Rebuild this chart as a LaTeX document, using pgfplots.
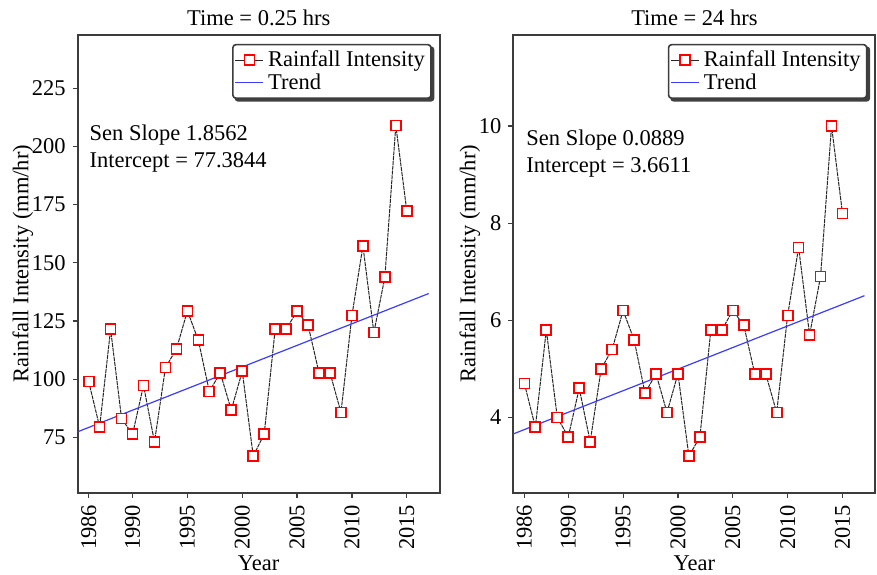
\documentclass[border=0pt]{standalone}
\usepackage{fontspec}
\setmainfont{Liberation Serif}
\usepackage{pgfplots}
\pgfplotsset{compat=1.18}
\pgfdeclarelayer{background}
\pgfsetlayers{background,main}
\definecolor{axgray}{RGB}{60,60,60}
\definecolor{trendblue}{RGB}{60,60,255}
\definecolor{mkred}{RGB}{255,0,0}

\pgfplotstableread{
year  r025   r24
1986  99.0   4.7
1987  79.5   3.8
1988  121.4  5.8
1989  83.1   4.0
1990  76.3   3.6
1991  97.3   4.6
1992  73.0   3.5
1993  105.0  5.0
1994  112.9  5.4
1995  129.3  6.2
1996  116.7  5.6
1997  94.7   4.5
1998  102.7  4.9
1999  86.7   4.1
2000  103.4  4.9
2001  67.0   3.2
2002  76.3   3.6
2003  121.4  5.8
2004  121.4  5.8
2005  129.3  6.2
2006  123.2  5.9
2007  102.7  4.9
2008  102.7  4.9
2009  85.7   4.1
2010  127.3  6.1
2011  157.3  7.5
2012  120.0  5.7
2013  143.8  6.9
2014  209.0  10.0
2015  172.3  8.2
}\rain

\pgfplotsset{
  panel/.style={
    scale only axis,
    width=181pt, height=229pt,
    xmin=1985, xmax=2018,
    xtick={1986,1990,1995,2000,2005,2010,2015},
    xticklabel style={rotate=90, anchor=east},
    /pgf/number format/1000 sep={},
    /pgf/number format/assume math mode=true,
    tick align=outside, major tick length=2.5pt,
    xtick pos=bottom, ytick pos=left,
    tick style={axgray, line width=0.6pt},
    axis line style={axgray, line width=1pt},
    font=\fontsize{11.25}{13}\selectfont,
    ticklabel style={font=\fontsize{11.25}{13}\selectfont},
    xlabel={Year},
    ylabel={Rainfall Intensity (mm/hr)},
    xlabel style={yshift=4pt},
    ylabel style={yshift=-7.5pt},
    title style={yshift=-5pt},
    legend cell align=left,
    legend style={at={(0.978,0.98)}, anchor=north east,
      draw=axgray, line width=0.8pt, rounded corners=1.5pt, fill=white,
      font=\fontsize{11.25}{13}\selectfont,
      inner sep=1pt, row sep=-2pt},
  },
  rainline/.style={black!85, line width=0.5pt, dash pattern=on 2pt off 0.4pt, no marks},
  rainmarks/.style={only marks, mark=square*, mark size=2.5pt,
    mark options={draw=mkred, fill=white, line width=0.85pt},
    legend image code/.code={
      \draw[black!85, line width=0.5pt, sharp corners] (0pt,0pt) -- (14pt,0pt);
      \draw[mkred, fill=white, line width=0.85pt, sharp corners] (4.5pt,-2.5pt) rectangle (9.5pt,2.5pt);
    }},
  trendline/.style={trendblue, line width=0.6pt,
    legend image code/.code={\draw[trendblue, line width=0.6pt] (0pt,0pt) -- (14pt,0pt);}},
}

\begin{document}
\begin{tikzpicture}
\useasboundingbox (-38.85pt,-40.65pt) rectangle (399.65pt,246.35pt);

\begin{axis}[panel, ymin=51.2, ymax=248,
  ytick={75,100,125,150,175,200,225},
  title={Time = 0.25 hrs},
  legend style={name=legA}]
\addplot[rainline, forget plot] table[x=year, y=r025] {\rain};
\addplot[rainmarks] table[x=year, y=r025] {\rain};
\addlegendentry{Rainfall Intensity}
\addplot[trendline] coordinates {(1985,77.3844) (2017,136.7828)};
\addlegendentry{Trend}
\node[anchor=north west, align=left, inner sep=0pt, font=\fontsize{11.25}{13.5}\selectfont]
  at (rel axis cs:0.032,0.803) {Sen Slope 1.8562\\Intercept = 77.3844};
\end{axis}

\begin{axis}[panel, at={(217.85pt,0)}, ymin=2.45, ymax=11.88,
  ytick={4,6,8,10},
  title={Time = 24 hrs},
  legend style={name=legB}]
\addplot[rainline, forget plot] table[x=year, y=r24] {\rain};
\addplot[rainmarks] table[x=year, y=r24] {\rain};
\addlegendentry{Rainfall Intensity}
\addplot[trendline] coordinates {(1985,3.6611) (2017,6.5059)};
\addlegendentry{Trend}
\node[anchor=north west, align=left, inner sep=0pt, font=\fontsize{11.25}{13.5}\selectfont]
  at (rel axis cs:0.035,0.792) {Sen Slope 0.0889\\Intercept = 3.6611};
\end{axis}

\begin{pgfonlayer}{background}
\foreach \L in {legA,legB}{
  \fill[black!75, rounded corners=1.5pt]
    ([shift={(1.3pt,-1.3pt)}]\L.south west) rectangle ([shift={(1.3pt,-1.3pt)}]\L.north east);
}
\end{pgfonlayer}
\end{tikzpicture}
\end{document}
